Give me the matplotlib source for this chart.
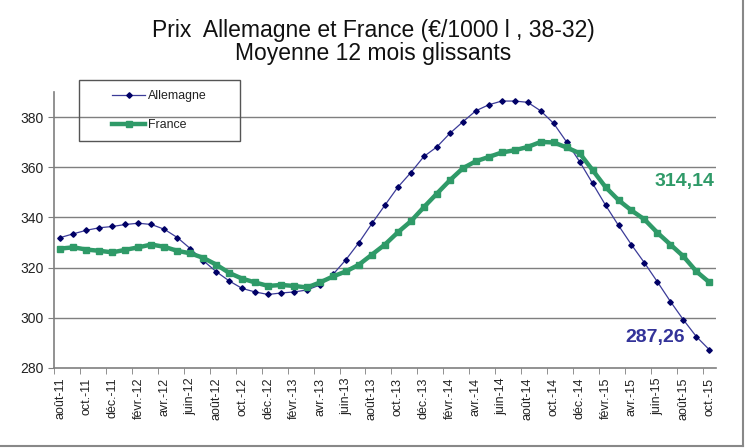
import matplotlib.pyplot as plt
from matplotlib.lines import Line2D
from matplotlib.patches import Rectangle

plt.rcParams["font.family"] = ["Liberation Sans", "DejaVu Sans"]

# mois (aout-11 -> oct-15), moyenne 12 mois glissants
mois = ["août-11", "sept.-11", "oct.-11", "nov.-11", "déc.-11", "janv.-12",
        "févr.-12", "mars-12", "avr.-12", "mai-12", "juin-12", "juil.-12",
        "août-12", "sept.-12", "oct.-12", "nov.-12", "déc.-12", "janv.-13",
        "févr.-13", "mars-13", "avr.-13", "mai-13", "juin-13", "juil.-13",
        "août-13", "sept.-13", "oct.-13", "nov.-13", "déc.-13", "janv.-14",
        "févr.-14", "mars-14", "avr.-14", "mai-14", "juin-14", "juil.-14",
        "août-14", "sept.-14", "oct.-14", "nov.-14", "déc.-14", "janv.-15",
        "févr.-15", "mars-15", "avr.-15", "mai-15", "juin-15", "juil.-15",
        "août-15", "sept.-15", "oct.-15"]

allemagne = [332.0, 333.5, 334.9, 335.9, 336.4, 337.2, 337.7, 337.2, 335.3, 332.0,
             327.6, 322.8, 318.4, 314.7, 311.7, 310.3, 309.3, 309.9, 310.3, 311.1,
             313.1, 317.3, 323.2, 330.0, 337.6, 344.9, 352.1, 357.9, 364.3, 368.1,
             373.5, 378.1, 382.5, 384.9, 386.4, 386.4, 385.9, 382.5, 377.5, 370.1,
             362.3, 353.6, 344.9, 336.8, 329.1, 321.9, 314.3, 306.5, 299.2, 292.5,
             287.26]

france = [327.6, 328.1, 327.2, 326.7, 326.1, 327.1, 328.1, 329.2, 328.3, 326.7,
          325.7, 323.9, 321.2, 317.9, 315.6, 314.1, 312.7, 313.1, 312.7, 312.1,
          314.1, 316.5, 318.5, 321.2, 325.2, 329.2, 334.1, 338.5, 344.1, 349.5,
          354.8, 359.6, 362.4, 364.1, 365.9, 366.8, 368.1, 370.1, 369.9, 367.9,
          365.6, 358.9, 352.1, 346.9, 342.8, 339.2, 333.9, 329.2, 324.5, 318.5,
          314.14]

col_de = "#3b3b98"
col_de_mk = "#000066"
col_fr = "#2f9a68"
W, H = 747, 448

fig = plt.figure(figsize=(7.47, 4.48), dpi=100)
ax = fig.add_axes([0.0723, 0.1786, 0.886, 0.616])

x = list(range(len(mois)))
ax.plot(x, allemagne, color=col_de, lw=0.9, marker="D", ms=2.8,
        mfc=col_de_mk, mec=col_de_mk, zorder=3)
ax.plot(x, france, color=col_fr, lw=3.2, marker="s", ms=4.2,
        mfc=col_fr, mec=col_fr, zorder=4)

ax.set_xlim(-0.5, len(mois) - 0.5)
ax.set_ylim(280, 390)
ax.set_yticks([280, 300, 320, 340, 360, 380])
for v in [300, 320, 340, 360, 380]:
    ax.axhline(v, color="#7f7f7f", lw=1.0, zorder=1)

ax.set_xticks(x[::2])
ax.set_xticklabels(mois[::2], rotation=90, fontsize=9, color="#222222")
ax.set_xticks([i - 0.5 for i in x[::2]], minor=True)
ax.tick_params(axis="x", which="major", length=0, pad=7)
ax.tick_params(axis="x", which="minor", length=4, color="#7f7f7f")
ax.tick_params(axis="y", length=4, color="#7f7f7f", labelsize=10, labelcolor="#222222")

for s in ["top", "right"]:
    ax.spines[s].set_visible(False)
ax.spines["left"].set_color("#7f7f7f")
ax.spines["bottom"].set_color("#7f7f7f")
ax.spines["left"].set_linewidth(1.2)
ax.spines["bottom"].set_linewidth(1.2)

ax.text(50.4, 354.4, "314,14", color=col_fr, fontsize=14,
        fontweight="bold", ha="right", va="center")
ax.text(48.15, 292.2, "287,26", color="#333399", fontsize=14,
        fontweight="bold", ha="right", va="center")

fig.text(0.5, 1 - 37 / H, "Prix  Allemagne et France (€/1000 l , 38-32)",
         ha="center", va="baseline", fontsize=16.5, color="#111111")
fig.text(0.5, 1 - 60 / H, "Moyenne 12 mois glissants", ha="center",
         va="baseline", fontsize=16.5, color="#111111")

# legende
fig.add_artist(Rectangle((79 / W, 1 - 141 / H), 161 / W, 61 / H,
                         transform=fig.transFigure, fill=False,
                         edgecolor="#555555", lw=1.0))
handles = [Line2D([], [], color=col_de, lw=0.9, marker="D", ms=2.8,
                  mfc=col_de_mk, mec=col_de_mk),
           Line2D([], [], color=col_fr, lw=3.2, marker="s", ms=4.2,
                  mfc=col_fr, mec=col_fr)]
leg = fig.legend(handles, ["Allemagne", "France"], loc="upper left",
                 bbox_to_anchor=(112 / W, 1 - 90.5 / H), fontsize=8.9,
                 frameon=False, handlelength=2.67, labelspacing=1.35,
                 borderpad=0, handletextpad=0.25, borderaxespad=0)
for t in leg.get_texts():
    t.set_color("#222222")

# cadre exterieur
fig.add_artist(Line2D([0, 0.995], [0.005, 0.005], color="#888888", lw=1.5,
                      transform=fig.transFigure))
fig.add_artist(Line2D([0.995, 0.995], [0.005, 1.0], color="#888888", lw=1.5,
                      transform=fig.transFigure))

fig.savefig("out.png", dpi=100)
